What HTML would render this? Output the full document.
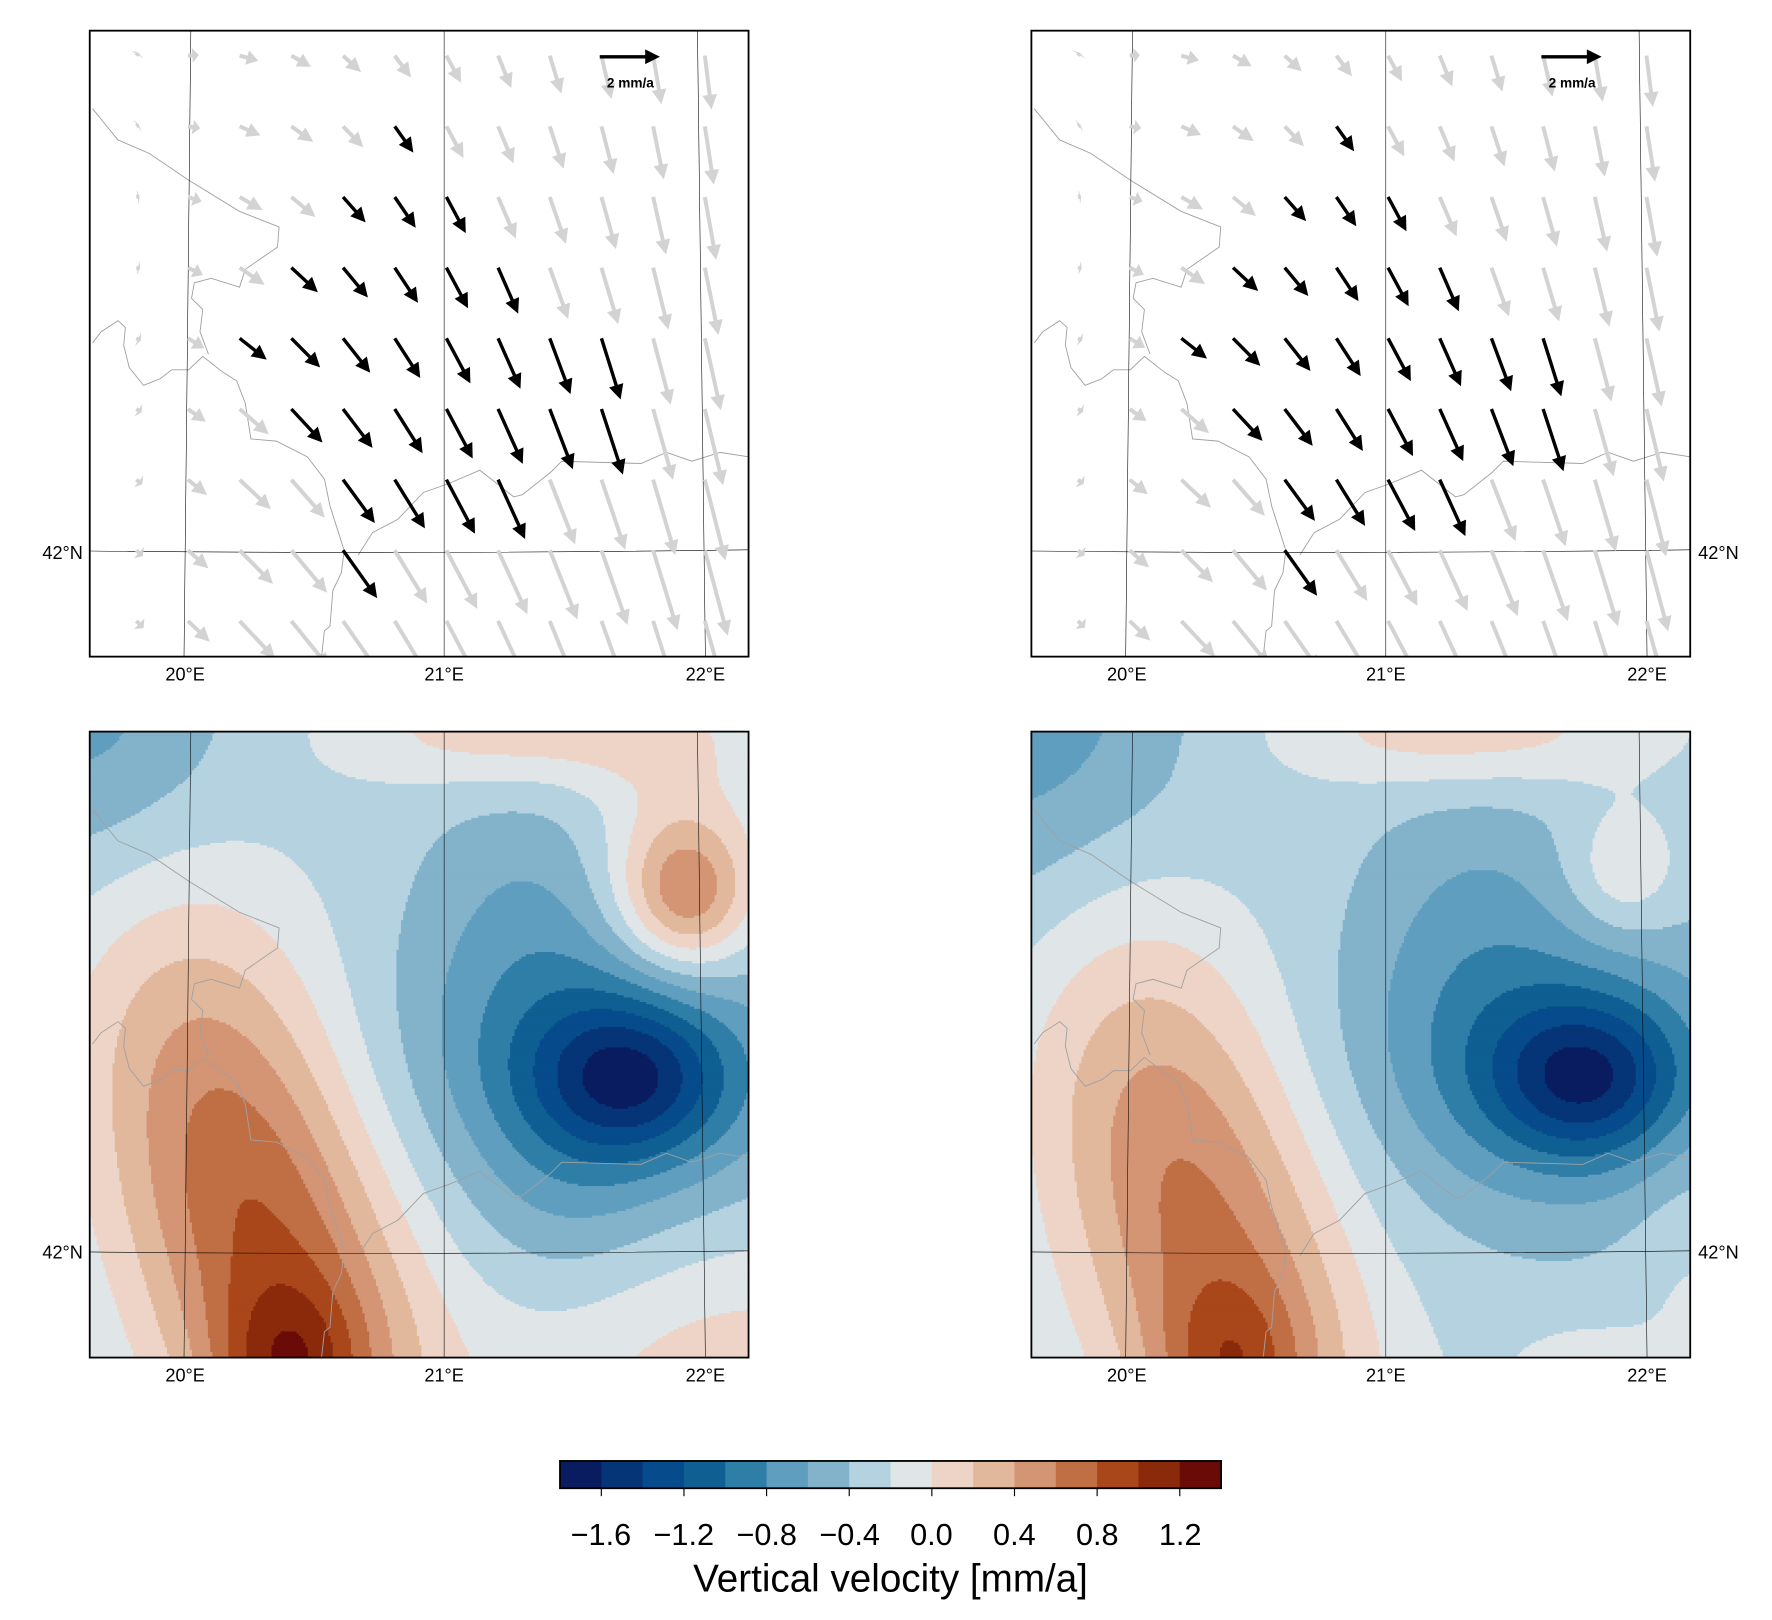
<!DOCTYPE html>
<html><head><meta charset="utf-8"><style>
html,body{margin:0;padding:0;background:#fff;}
svg{display:block;}
text{font-family:"Liberation Sans","DejaVu Sans",sans-serif;}
</style></head><body>
<svg id="s" width="1772" height="1620" viewBox="0 0 1560 1426" preserveAspectRatio="none" xmlns="http://www.w3.org/2000/svg">
<defs>
<clipPath id="cp"><rect x="0" y="0" width="580" height="551"/></clipPath>
</defs>
<g id="p1" transform="translate(79,27)"></g>
<g id="p2" transform="translate(908,27)"></g>
<g id="p3" transform="translate(79,644)"></g>
<g id="p4" transform="translate(908,644)"></g>
<g id="labels" font-size="16" fill="#000">
<text x="163" y="599" text-anchor="middle">20°E</text>
<text x="391" y="599" text-anchor="middle">21°E</text>
<text x="621" y="599" text-anchor="middle">22°E</text>
<text x="992" y="599" text-anchor="middle">20°E</text>
<text x="1220" y="599" text-anchor="middle">21°E</text>
<text x="1450" y="599" text-anchor="middle">22°E</text>
<text x="163" y="1216" text-anchor="middle">20°E</text>
<text x="391" y="1216" text-anchor="middle">21°E</text>
<text x="621" y="1216" text-anchor="middle">22°E</text>
<text x="992" y="1216" text-anchor="middle">20°E</text>
<text x="1220" y="1216" text-anchor="middle">21°E</text>
<text x="1450" y="1216" text-anchor="middle">22°E</text>
<text x="73" y="492" text-anchor="end">42°N</text>
<text x="1495" y="492">42°N</text>
<text x="73" y="1108" text-anchor="end">42°N</text>
<text x="1495" y="1108">42°N</text>
</g>
<g id="cb"></g>
<g font-size="27" text-anchor="middle">
<text x="529" y="1360">−1.6</text>
<text x="602" y="1360">−1.2</text>
<text x="675" y="1360">−0.8</text>
<text x="748" y="1360">−0.4</text>
<text x="820" y="1360">0.0</text>
<text x="893" y="1360">0.4</text>
<text x="966" y="1360">0.8</text>
<text x="1039" y="1360">1.2</text>
<text x="784" y="1401" font-size="34">Vertical velocity [mm/a]</text>
</g>
</svg>
<script>
var NS="http://www.w3.org/2000/svg";
function el(t,a,p){var e=document.createElementNS(NS,t);for(var k in a)e.setAttribute(k,a[k]);p.appendChild(e);return e;}
var cols=["#0a1c60","#053577","#064b8b","#0f5f93","#2f7ea8","#609ebf","#82b3cb","#b4d2e0","#e0e5e8","#edd4c7","#e2b89d","#d49575","#c06f45","#a9471a","#8b2a0b","#6a0b07"];
function g(x,y,cx,cy,sx,sy,a){var dx=(x-cx)/sx,dy=(y-cy)/sy;return a*Math.exp(-0.5*(dx*dx+dy*dy));}
function ridge(x,y,cx,cy,sl,ss,a){var ax=0.3,ay=0.954;var dx=x-cx,dy=y-cy;var al=dx*ax+dy*ay,pe=-dx*ay+dy*ax;return a*Math.exp(-0.5*((al/sl)*(al/sl)+(pe/ss)*(pe/ss)));}
function fieldL(x,y){
 return -0.28+ridge(x,y,150,440,210,85,1.1)+g(x,y,175,565,45,55,0.6)
 +g(x,y,475,305,60,50,-0.9)+g(x,y,460,295,140,100,-0.5)+g(x,y,390,170,70,110,-0.25)+g(x,y,420,420,60,70,-0.15)
 +g(x,y,0,0,90,110,-0.45)+g(x,y,525,145,40,45,0.75)+g(x,y,515,100,60,90,0.3)
 +g(x,y,380,0,110,35,0.45)+g(x,y,580,570,150,90,0.4);
}
function fieldR(x,y){
 return -0.28+ridge(x,y,150,440,210,85,0.95)+g(x,y,175,565,45,55,0.5)
 +g(x,y,488,305,60,50,-0.9)+g(x,y,470,295,140,100,-0.5)+g(x,y,390,170,70,110,-0.25)
 +g(x,y,0,0,100,140,-0.5)+g(x,y,520,125,35,40,0.35)
 +g(x,y,380,0,110,35,0.45)+g(x,y,490,565,40,25,0.35)+g(x,y,580,470,40,120,0.15);
}
function fill(id,f){
 var p=document.getElementById(id);var gg=el("g",{"clip-path":"url(#cp)"},p);
 var c=2;
 for(var y=0;y<551;y+=c){var run=-1,sx=0;
  for(var x=0;x<=580;x+=c){
   var i=-1;if(x<580){var v=f(x+c/2,y+c/2);i=Math.max(0,Math.min(15,Math.floor((v+1.8)/0.2)));}
   if(i!==run){if(run>=0)el("rect",{x:sx,y:y,width:x-sx+0.5,height:c+0.5,fill:cols[run]},gg);run=i;sx=x;}
  }}
}
fill("p3",fieldL);fill("p4",fieldR);
function tr(pts){var o=[];for(var i=0;i<pts.length;i+=2)o.push(((pts[i]+3.7)/2.009-79).toFixed(1)+","+((pts[i+1]+3.7)/2.546-27).toFixed(1));return o.join(" ");}
var b1=[160,240,205,310,260,340,330,400,420,470,490,505,487,550,430,600,420,640,370,620,340,630,335,665,355,690,350,740,365,790];
var b2=[160,765,175,740,205,715,218,730,215,770,225,820,250,860,280,845,300,825,330,825,355,795,390,830,415,850,430,900,440,980,485,985,540,1020,570,1070,580,1130,595,1190,605,1230,600,1280,585,1320,580,1400,570,1410,565,1468];
var b3=[630,1240,655,1190,700,1160,745,1100,790,1080,845,1050,870,1075,905,1110,920,1105,970,1055,990,1030,1130,1035,1175,1010,1220,1030,1270,1010,1320,1020];
function decor(id){
 var p=document.getElementById(id);var gg=el("g",{"clip-path":"url(#cp)"},p);
 [b1,b2,b3].forEach(function(b){el("polyline",{points:tr(b),fill:"none",stroke:"#a0a0a0","stroke-width":0.8},gg);});
 el("line",{x1:89,y1:0,x2:83,y2:551,stroke:"#000","stroke-width":0.5},gg);
 el("line",{x1:312,y1:0,x2:312,y2:551,stroke:"#000","stroke-width":0.5},gg);
 el("line",{x1:535,y1:0,x2:542,y2:551,stroke:"#000","stroke-width":0.5},gg);
 el("path",{d:"M0,458 Q290,461 580,457",fill:"none",stroke:"#000","stroke-width":0.5},gg);
 return gg;
}
function arrow(gg,x,y,u,v,col,w){
 var L=Math.sqrt(u*u+v*v);if(L<1)return;var ux=u/L,uy=v/L;var hl=Math.min(13,L*0.6),hw=6.5;
 var bx=x+u-ux*hl,by=y+v-uy*hl;
 el("line",{x1:x,y1:y,x2:bx+ux*1,y2:by+uy*1,stroke:col,"stroke-width":w},gg);
 el("polygon",{points:(x+u)+","+(y+v)+" "+(bx-uy*hw)+","+(by+ux*hw)+" "+(bx+uy*hw)+","+(by-ux*hw),fill:col},gg);
}
var black={1:[5],2:[4,5,6],3:[3,4,5,6,7],4:[2,3,4,5,6,7,8,9],5:[3,4,5,6,7,8,9],6:[4,5,6,7],7:[4]};
function quiv(id,sc){
 var gg=decor(id);var list=[];
 for(var r=0;r<9;r++)for(var k=-1;k<12;k++){
  var x=41+45.5*k,y=22+62.2*r;var xn=x/580,yn=y/551;
  var v=60*xn+35*yn-10,u=22-18*xn+18*yn;
  if(xn<0.25){var f=xn/0.25;u=u*f-6*(1-f);v=v*f+(-2)*(1-f);}
  var isb=black[r]&&black[r].indexOf(k)>=0;
  list.push([isb,x,y,u*sc,v*sc]);
 }
 list.forEach(function(a){if(!a[0])arrow(gg,a[1],a[2],a[3],a[4],"#d3d3d3",3.5);});
 list.forEach(function(a){if(a[0])arrow(gg,a[1],a[2],a[3],a[4],"#000",3);});
 arrow(document.getElementById(id),449,23,53,0,"#000",3);
 el("text",{x:476,y:50,"font-size":12,"font-weight":"bold","text-anchor":"middle"},document.getElementById(id)).textContent="2 mm/a";
}
quiv("p1",1);quiv("p2",0.95);
decor("p3");decor("p4");
["p1","p2","p3","p4"].forEach(function(id){el("rect",{x:0,y:0,width:580,height:551,fill:"none",stroke:"#000","stroke-width":1.6},document.getElementById(id));});
var cb=document.getElementById("cb");var w=(1075-493)/16;
for(var i=0;i<16;i++)el("rect",{x:493+i*w,y:1286,width:w+0.5,height:24,fill:cols[i]},cb);
el("rect",{x:493,y:1286,width:582,height:24,fill:"none",stroke:"#000","stroke-width":1.6},cb);
for(var i=0;i<8;i++){var tx=493+w*(1+2*i);el("line",{x1:tx,y1:1310,x2:tx,y2:1317,stroke:"#000","stroke-width":1},cb);}
</script>
</body></html>
